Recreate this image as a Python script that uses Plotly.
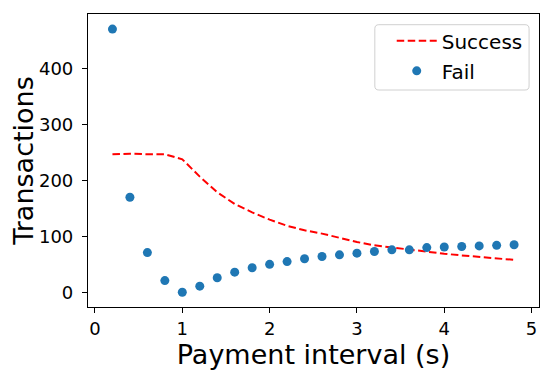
import plotly.graph_objects as go

interval = [0.2, 0.4, 0.6, 0.8, 1.0, 1.2, 1.4, 1.6, 1.8, 2.0, 2.2, 2.4,
            2.6, 2.8, 3.0, 3.2, 3.4, 3.6, 3.8, 4.0, 4.2, 4.4, 4.6, 4.8]
success = [247, 248, 247, 247, 238, 207, 179, 158, 143, 130, 119, 111,
           105, 97, 90, 84, 80, 76, 72, 69, 66, 63, 61, 58]
fail = [471, 170, 71, 21, 0, 11, 26, 36, 44, 50, 55, 60,
        64, 67, 70, 73, 76, 76, 80, 81, 82, 83, 84, 85]

x_ticks = [0, 1, 2, 3, 4, 5]
y_ticks = [0, 100, 200, 300, 400]

FONT = "DejaVu Sans"

fig = go.Figure()
fig.add_trace(go.Scatter(x=interval, y=success, mode="lines", name="Success",
                         legendgroup="a",
                         line=dict(color="red", width=2, dash="7.5px,3.5px")))
fig.add_trace(go.Scatter(x=interval, y=fail, mode="markers", name="Fail",
                         legendgroup="b",
                         marker=dict(color="#1f77b4", size=9)))

axis_common = dict(showline=True, linecolor="black", linewidth=1.2, mirror=True,
                   ticks="outside", ticklen=5, tickwidth=1.2, tickcolor="black",
                   showgrid=False, zeroline=False, automargin=False,
                   tickfont=dict(family=FONT, size=18, color="black"))

# rounded legend frame (paper coordinates)
x0, x1, y0, y1 = 0.636, 0.978, 0.7406, 0.9635
rx, ry = 0.009, 0.0137
path = (f"M {x0+rx},{y0} L {x1-rx},{y0} Q {x1},{y0} {x1},{y0+ry} "
        f"L {x1},{y1-ry} Q {x1},{y1} {x1-rx},{y1} L {x0+rx},{y1} "
        f"Q {x0},{y1} {x0},{y1-ry} L {x0},{y0+ry} Q {x0},{y0} {x0+rx},{y0} Z")

# page body has an 8px margin, so the figure is sized 8px smaller
fig.update_layout(
    width=542, height=368,
    margin=dict(l=80, r=11, t=6, b=69),
    paper_bgcolor="white", plot_bgcolor="white",
    font=dict(family=FONT, color="black"),
    xaxis=dict(range=[-0.08, 5.085], tickvals=x_ticks,
               title=dict(text="Payment interval (s)", font=dict(family=FONT, size=27), standoff=4),
               **axis_common),
    yaxis=dict(range=[-26.3, 498], tickvals=y_ticks, ticklabelstandoff=5,
               title=dict(text="Transactions", font=dict(family=FONT, size=27), standoff=6),
               **axis_common),
    legend=dict(x=0.975, y=0.975, xanchor="right", yanchor="top",
                borderwidth=0, bgcolor="rgba(0,0,0,0)", itemwidth=40,
                font=dict(family=FONT, size=20), tracegroupgap=1),
    shapes=[dict(type="path", path=path, xref="paper", yref="paper",
                 line=dict(color="#d0d0d0", width=1), fillcolor="rgba(255,255,255,0.8)",
                 layer="above")],
    showlegend=True,
)

fig.write_html("out.html")
